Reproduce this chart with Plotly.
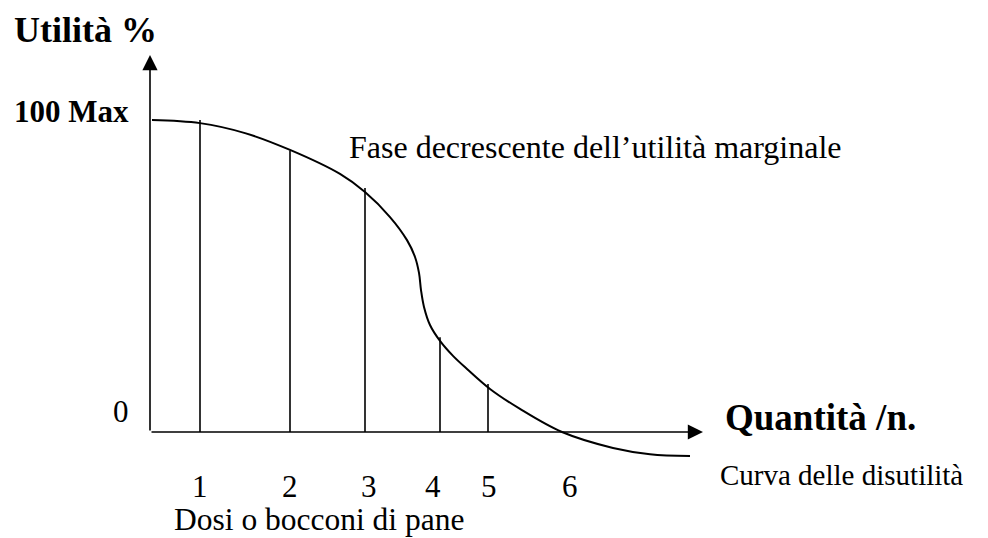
import plotly.graph_objects as go

# utility curve (x = quantity units, y = utility %)
curve_x = [0.2, 5.0, 9.5, 14.0, 19.0, 21.5, 24.0, 25.7, 26.5, 26.9, 27.1, 27.4, 28.0, 29.0,
           30.3, 31.7, 34.0, 37.0, 41.2, 46.3, 50.0, 54.0]
curve_y = [100.0, 99.0, 95.8, 90.4, 82.7, 76.9, 68.9, 61.5, 56.1, 51.0, 45.5, 40.1, 34.3, 29.2,
           24.4, 20.2, 13.8, 7.4, 0.0, -5.1, -7.1, -7.7]

# doses (vertical bars)
dose_x = [5.0, 14.0, 21.5, 29.0, 33.8]
dose_top = [100.0, 90.2, 78.2, 30.4, 15.4]

# dose numbers under the axis
dose_labels = ["1", "2", "3", "4", "5", "6"]
dose_label_x = [5.0, 14.0, 21.9, 28.3, 33.9, 42.0]

SERIF = "Liberation Serif, Times New Roman, serif"

fig = go.Figure()

# vertical bars, one trace with gaps
bx, by = [], []
for x, top in zip(dose_x, dose_top):
    bx += [x, x, None]
    by += [0, top, None]
fig.add_trace(go.Scatter(x=bx, y=by, mode="lines", line=dict(color="black", width=1.6),
                         hoverinfo="skip", showlegend=False))

fig.add_trace(go.Scatter(x=curve_x, y=curve_y, mode="lines",
                         line=dict(color="black", width=2, shape="spline", smoothing=1.0),
                         hoverinfo="skip", showlegend=False))

annotations = []

# axes drawn as arrows
annotations.append(dict(x=0, y=120.8, ax=0, ay=0, xref="x", yref="y", axref="x", ayref="y",
                        showarrow=True, arrowhead=2, arrowwidth=1.6, arrowsize=1.9,
                        arrowcolor="black", text=""))
annotations.append(dict(x=55.3, y=0, ax=0, ay=0, xref="x", yref="y", axref="x", ayref="y",
                        showarrow=True, arrowhead=2, arrowwidth=1.6, arrowsize=1.9,
                        arrowcolor="black", text=""))


def label(text, x, y, size, bold=False, anchor="left"):
    if bold:
        text = "<b>" + text + "</b>"
    annotations.append(dict(x=x, y=y, xref="x", yref="y", text=text, showarrow=False,
                            xanchor=anchor, yanchor="middle",
                            font=dict(family=SERIF, size=size, color="black")))


label("Utilità %", -13.8, 128.9, 36, bold=True)
label("100 Max", -13.8, 102.6, 31, bold=True)
label("Fase decrescente dell’utilità marginale", 19.7, 91.2, 32)
label("0", -2.9, 6.6, 31, anchor="center")
label("Quantità /n.", 57.3, 4.7, 37, bold=True)
label("Curva delle disutilità", 56.8, -13.7, 29)
for t, x in zip(dose_labels, dose_label_x):
    label(t, x, -17.5, 31, anchor="center")
label("Dosi o bocconi di pane", 2.2, -28.0, 31.5)

fig.update_layout(
    width=988, height=538,
    margin=dict(l=0, r=0, t=0, b=0),
    paper_bgcolor="white", plot_bgcolor="white",
    annotations=annotations,
    showlegend=False,
)
fig.update_xaxes(range=[-15, 83.8], visible=False)
fig.update_yaxes(range=[-33.97, 138.46], visible=False)

# drop the default page margin so the figure fills the window exactly
fig.write_html("out.html", config={"displayModeBar": False},
               post_script="document.body.style.margin='0';")
